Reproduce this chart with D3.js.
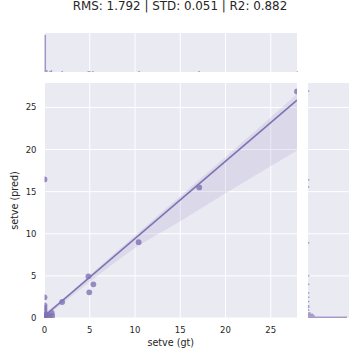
<!DOCTYPE html>
<html><head><meta charset="utf-8">
<script src="https://cdn.jsdelivr.net/npm/d3@7"></script>
<style>body{margin:0;background:#fff}svg{display:block}text{font-family:"DejaVu Sans",sans-serif;fill:#262626}</style>
</head><body><svg id="c" width="360" height="360"></svg>
<script>
const titleText = "RMS: 1.792 | STD: 0.051 | R2: 0.882";
const xLabel = "setve (gt)";
const yLabel = "setve (pred)";
const ticks = [0, 5, 10, 15, 20, 25];
const axisMax = 27.9;
// paired observations (ground truth, prediction)
const gtValues = [
  0,0,0,0,0,0,0,0,0,0, 0,0,0,0,0,0,0,0,0,0, 0,0,0,0,0,0,0,0,
  0,0,0, 0,0,0, 0,0,0,0,0,0,
  0.2,0.3,0.55,0.8,0.85,
  1.95,4.85,4.95,5.4,10.4,17.1,27.9];
const predValues = [
  0,0,0,0,0,0,0,0,0,0, 0,0,0,0,0,0,0,0,0,0, 0,0,0,0,0,0,0,0,
  0.2,0.2,0.2, 0.35,0.35,0.35, 0.6,0.9,1.2,1.5,2.45,16.45,
  0.1,0.4,0.2,0.6,0.25,
  1.9,4.95,3.05,4.0,9.0,15.5,26.9];
// fitted regression line and bootstrap confidence band
const fitX = [0, 27.9];
const fitY = [0.25, 25.86];
const bandX = [0, 2, 5, 10, 15, 20, 27.9];
const bandLo = [0.0, 1.75, 4.3, 8.3, 11.5, 14.8, 19.9];
const bandHi = [0.6, 2.2, 5.1, 9.8, 14.45, 19.1, 26.6];
const binWidth = 0.17;

const color = "#8172B3", bg = "#EAEAF2";
const svg = d3.select("#c");
const L = 44.5, R = 297, T = 83, B = 318;
const mTopY0 = 33, mTopY1 = 72, mRX0 = 308, mRX1 = 349;

const x = d3.scaleLinear().domain([0, axisMax]).range([L, R]);
const y = d3.scaleLinear().domain([0, axisMax]).range([B, T]);

// backgrounds
svg.append("rect").attr("x", L).attr("y", T).attr("width", R - L).attr("height", B - T).attr("fill", bg);
svg.append("rect").attr("x", L).attr("y", mTopY0).attr("width", R - L).attr("height", mTopY1 - mTopY0).attr("fill", bg);
svg.append("rect").attr("x", mRX0).attr("y", T).attr("width", mRX1 - mRX0).attr("height", B - T).attr("fill", bg);

// grid
const g = svg.append("g").attr("stroke", "#fff").attr("stroke-width", 1);
ticks.forEach(t => {
  g.append("line").attr("x1", x(t)).attr("x2", x(t)).attr("y1", T).attr("y2", B);
  g.append("line").attr("x1", x(t)).attr("x2", x(t)).attr("y1", mTopY0).attr("y2", mTopY1);
  g.append("line").attr("y1", y(t)).attr("y2", y(t)).attr("x1", L).attr("x2", R);
  g.append("line").attr("y1", y(t)).attr("y2", y(t)).attr("x1", mRX0).attr("x2", mRX1);
});

svg.append("defs").append("clipPath").attr("id", "clipMain")
  .append("rect").attr("x", L).attr("y", T).attr("width", R - L).attr("height", B - T);
const main = svg.append("g").attr("clip-path", "url(#clipMain)");

// band
const band = bandX.map((v, i) => ({x: v, lo: bandLo[i], hi: bandHi[i]}));
main.append("path").datum(band)
  .attr("d", d3.area().x(d => x(d.x)).y0(d => y(d.lo)).y1(d => y(d.hi)).curve(d3.curveMonotoneX))
  .attr("fill", color).attr("fill-opacity", 0.15);

// points
const pts = gtValues.map((v, i) => [v, predValues[i]]);
main.selectAll("circle").data(pts).join("circle")
  .attr("cx", d => x(d[0])).attr("cy", d => y(d[1])).attr("r", 2.9)
  .attr("fill", color).attr("fill-opacity", 0.8);

// fit line
main.append("path").datum(fitX.map((v, i) => [v, fitY[i]]))
  .attr("d", d3.line().x(d => x(d[0])).y(d => y(d[1])))
  .attr("stroke", color).attr("stroke-width", 1.5).attr("fill", "none");

// marginal histograms
const thresholds = d3.range(0, axisMax, binWidth);
const binsX = d3.bin().domain([0, axisMax]).thresholds(thresholds)(gtValues);
const binsY = d3.bin().domain([0, axisMax]).thresholds(thresholds)(predValues);
const hx = d3.scaleLinear().domain([0, d3.max(binsX, b => b.length) * 1.05]).range([mTopY1, mTopY0]);
const hy = d3.scaleLinear().domain([0, d3.max(binsY, b => b.length) * 1.05]).range([mRX0, mRX1]);
svg.append("g").selectAll("rect").data(binsX.filter(b => b.length)).join("rect")
  .attr("x", b => x(b.x0)).attr("width", b => Math.max(1, x(b.x1) - x(b.x0)))
  .attr("y", b => hx(b.length)).attr("height", b => mTopY1 - hx(b.length))
  .attr("fill", color).attr("fill-opacity", 0.7);
svg.append("g").selectAll("rect").data(binsY.filter(b => b.length)).join("rect")
  .attr("y", b => y(b.x1)).attr("height", b => Math.max(1, y(b.x0) - y(b.x1)))
  .attr("x", mRX0).attr("width", b => hy(b.length) - mRX0)
  .attr("fill", color).attr("fill-opacity", 0.7);

// tick labels
ticks.forEach(t => {
  svg.append("text").attr("x", x(t)).attr("y", 333).attr("text-anchor", "middle")
    .attr("font-size", 8.5).text(t);
  svg.append("text").attr("x", 36.5).attr("y", y(t)).attr("dy", "0.35em").attr("text-anchor", "end")
    .attr("font-size", 8.5).text(t);
});
svg.append("text").attr("x", (L + R) / 2).attr("y", 345.5).attr("text-anchor", "middle")
  .attr("font-size", 9.6).text(xLabel);
svg.append("text").attr("transform", `translate(17.5,${(T + B) / 2}) rotate(-90)`)
  .attr("text-anchor", "middle").attr("font-size", 9.6).text(yLabel);
svg.append("text").attr("x", 180).attr("y", 10).attr("text-anchor", "middle")
  .attr("font-size", 11.9).text(titleText);
</script></body></html>
